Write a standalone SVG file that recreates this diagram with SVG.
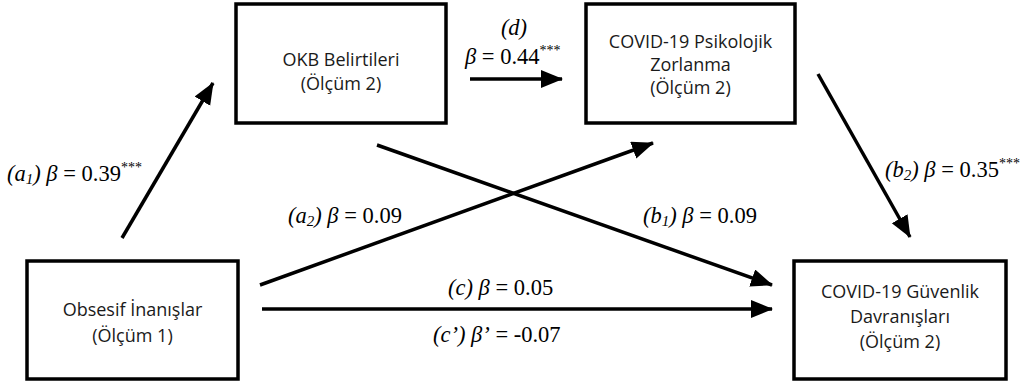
<svg xmlns="http://www.w3.org/2000/svg" width="1031" height="383" viewBox="0 0 1031 383">
<style>
.box{fill:#fff;stroke:#000;stroke-width:3.5}
.nt{font-family:"Open Sans","Liberation Sans",sans-serif;font-size:18px;fill:#1a1a1a;text-anchor:middle}
.lb{font-family:"Liberation Serif","Times New Roman",serif;font-size:22.5px;fill:#000}
.it{font-style:italic}
.sub{font-size:15px;font-style:italic}
.sup{font-size:14px}
.con{stroke:#000;stroke-width:3.5;fill:none;marker-end:url(#ah)}
</style>
<defs>
<marker id="ah" markerUnits="userSpaceOnUse" markerWidth="24" markerHeight="20" refX="21" refY="9" orient="auto">
<path d="M0,0 L22,9 L0,18 z" fill="#000"/>
</marker>
</defs>
<rect width="1031" height="383" fill="#fff"/>
<g id="connectors">
<line class="con" x1="122" y1="238" x2="213" y2="83"/>
<line class="con" x1="470" y1="79" x2="562" y2="79"/>
<line class="con" x1="818" y1="74" x2="910" y2="237"/>
<line class="con" x1="260" y1="285" x2="653" y2="143"/>
<line class="con" x1="377" y1="145" x2="772" y2="285"/>
<line class="con" x1="262" y1="309" x2="772" y2="309"/>
</g>
<g id="labels">
<text class="lb" x="7" y="181"><tspan class="it">(a</tspan><tspan class="sub" dy="3">1</tspan><tspan class="it" dy="-3">) β</tspan> = 0.39<tspan class="sup" dy="-9">***</tspan></text>
<text class="lb it" x="514" y="35" text-anchor="middle">(d)</text>
<text class="lb" x="465" y="64"><tspan class="it">β</tspan> = 0.44<tspan class="sup" dy="-9">***</tspan></text>
<text class="lb" x="885" y="177"><tspan class="it">(b</tspan><tspan class="sub" dy="3">2</tspan><tspan class="it" dy="-3">) β</tspan> = 0.35<tspan class="sup" dy="-9">***</tspan></text>
<text class="lb" x="288" y="223"><tspan class="it">(a</tspan><tspan class="sub" dy="3">2</tspan><tspan class="it" dy="-3">) β</tspan> = 0.09</text>
<text class="lb" x="643" y="223"><tspan class="it">(b</tspan><tspan class="sub" dy="3">1</tspan><tspan class="it" dy="-3">) β</tspan> = 0.09</text>
<text class="lb" x="448" y="295"><tspan class="it">(c) β</tspan> = 0.05</text>
<text class="lb" x="433" y="342"><tspan class="it">(c’) β’</tspan> = -0.07</text>
</g>
<g id="okb">
<rect class="box" x="236" y="4" width="210" height="119"/>
<text class="nt" x="341" y="66">OKB Belirtileri</text>
<text class="nt" x="341" y="90">(Ölçüm 2)</text>
</g>
<g id="psikolojik">
<rect class="box" x="586" y="4" width="209" height="119"/>
<text class="nt" x="690.5" y="48">COVID-19 Psikolojik</text>
<text class="nt" x="690.5" y="71">Zorlanma</text>
<text class="nt" x="690.5" y="94">(Ölçüm 2)</text>
</g>
<g id="obsesif">
<rect class="box" x="27" y="261" width="211" height="118"/>
<text class="nt" x="132.5" y="316">Obsesif İnanışlar</text>
<text class="nt" x="132.5" y="342">(Ölçüm 1)</text>
</g>
<g id="guvenlik">
<rect class="box" x="794" y="261" width="212" height="118"/>
<text class="nt" x="900" y="298">COVID-19 Güvenlik</text>
<text class="nt" x="900" y="323">Davranışları</text>
<text class="nt" x="900" y="348">(Ölçüm 2)</text>
</g>
</svg>
